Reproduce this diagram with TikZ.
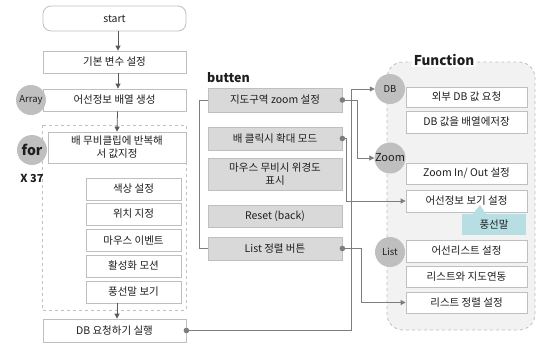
\documentclass[tikz,border=0pt]{standalone}
\usepackage{fontspec}
\setmainfont{Noto Sans CJK KR}
\usetikzlibrary{arrows.meta,calc}
\definecolor{bd}{RGB}{191,191,191}
\definecolor{btnfill}{RGB}{217,217,217}
\definecolor{circfill}{RGB}{191,191,191}
\definecolor{fnbg}{RGB}{242,242,242}
\definecolor{connc}{RGB}{125,125,125}
\definecolor{arrdark}{RGB}{89,89,89}
\definecolor{tealc}{RGB}{183,222,226}
\definecolor{txt}{RGB}{30,30,30}
\begin{document}
\begin{tikzpicture}[x=1pt,y=-1pt,
  txtf/.style={font=\fontsize{10.5}{13}\selectfont, text=txt},
  box/.style={draw=bd, fill=white, inner sep=0pt, align=center, line width=0.8pt, txtf},
  btn/.style={draw=bd, fill=btnfill, inner sep=0pt, align=center, line width=0.8pt, txtf},
  circ/.style={circle, fill=circfill, inner sep=0pt, minimum size=30, text=txt},
  mainarr/.style={draw=arrdark, line width=0.8pt, -{Triangle[length=5pt,width=5pt]}},
  connarr/.style={draw=connc, line width=0.8pt, -{Triangle[length=5pt,width=5pt]}},
  connline/.style={draw=connc, line width=0.8pt},
]
\useasboundingbox (0,0) rectangle (537,343);

% ---------- left column ----------
\node[box, rounded corners=8, minimum width=143, minimum height=25] (start) at (114.5,18.5) {start};
\node[box, minimum width=143, minimum height=22] (b1) at (114.5,62) {기본 변수 설정};
\node[box, minimum width=143, minimum height=22] (b2) at (114.5,100) {어선정보 배열 생성};
\node[circ, font=\fontsize{9.5}{11}\selectfont] (arr) at (31,100) {Array};

\draw[bd, dashed, line width=0.8pt] (42,125) rectangle (186,310);
\node[box, minimum width=138, minimum height=31] (b3) at (117,147.5) {배 무비클립에 반복해\\서 값지정};
\node[circ, font=\bfseries\fontsize{14}{16}\selectfont] (forc) at (32,150) {for};
\node[font=\bfseries\fontsize{11}{13}\selectfont, text=txt] (x37) at (32,178) {X 37};

\node[box, minimum width=95, minimum height=22] (b4) at (133.5,189) {색상 설정};
\node[box, minimum width=95, minimum height=22] (b5) at (133.5,214) {위치 지정};
\node[box, minimum width=95, minimum height=22] (b6) at (133.5,240.5) {마우스 이벤트};
\node[box, minimum width=95, minimum height=22] (b7) at (133.5,266) {활성화 모션};
\node[box, minimum width=95, minimum height=22] (b8) at (133.5,292) {풍선말 보기};
\node[box, minimum width=143, minimum height=23] (b9) at (114.5,330.5) {DB 요청하기 실행};

\draw[mainarr] ([xshift=3.5pt]start.south) -- ([xshift=3.5pt]b1.north);
\draw[mainarr] ([xshift=3.5pt]b1.south) -- ([xshift=3.5pt]b2.north);
\draw[mainarr] ([xshift=3pt]b2.south) -- (b3.north);
\draw[mainarr] ([xshift=2.5pt]b9.north |- b8.south) -- ([xshift=2.5pt]b9.north);

% ---------- buttons ----------
\node[font=\bfseries\fontsize{12.5}{14}\selectfont, text=txt, anchor=west, inner sep=0pt] (butten) at (207,77.5) {butten};
\node[btn, minimum width=134, minimum height=24] (k1) at (275,100) {지도구역 zoom 설정};
\node[btn, minimum width=134, minimum height=23] (k2) at (275,138.5) {배 클릭시 확대 모드};
\node[btn, minimum width=134, minimum height=32] (k3) at (275,174) {마우스 무비시 위경도\\표시};
\node[btn, minimum width=134, minimum height=22] (k4) at (275,216) {Reset (back)};
\node[btn, minimum width=134, minimum height=23] (k5) at (275,248.5) {List 정렬 버튼};

\draw[connline] (k1.west) -- ([xshift=-8pt]k1.west) -- ([xshift=-8pt]k5.west) -- (k5.west);

% ---------- Function ----------
\draw[bd, dashed, line width=0.8pt, fill=fnbg, rounded corners=16] (387,62) rectangle (535,330);
\node[font=\bfseries\fontsize{13.5}{15}\selectfont, text=txt, fill=white, inner sep=1.5pt] (fnlab) at (444,60) {Function};

\node[circ, font=\fontsize{9.5}{11}\selectfont] (dbc) at (390,89) {DB};
\node[circ, font=\fontsize{11}{13}\selectfont] (zoomc) at (390,158) {Zoom};
\node[circ, font=\fontsize{9.5}{11}\selectfont] (listc) at (390,252) {List};

\node[box, minimum width=121, minimum height=20] (f1) at (466.5,97) {외부 DB 값 요청};
\node[box, minimum width=121, minimum height=22] (f2) at (466.5,122) {DB 값을 배열에저장};
\node[box, minimum width=121, minimum height=21] (f3) at (466.5,173.5) {Zoom In/ Out 설정};
\node[box, minimum width=121, minimum height=22] (f4) at (466.5,201) {어선정보 보기 설정};
\node[fill=tealc, inner sep=0pt, minimum width=64, minimum height=21, txtf] (callout) at (494,224.5) {풍선말};
\fill[tealc] ([xshift=11pt]callout.north west) -- (480,205) -- ([xshift=24pt]callout.north west) -- cycle;
\node[box, minimum width=121, minimum height=22] (f5) at (466.5,251) {어선리스트 설정};
\node[box, minimum width=121, minimum height=21] (f6) at (466.5,276.5) {리스트와 지도연동};
\node[box, minimum width=121, minimum height=21] (f7) at (466.5,302.5) {리스트 정렬 설정};

% ---------- connectors ----------
\draw[connarr] (b9.east) -| ([xshift=-23pt]dbc.west) -- (dbc.west);
\draw[connarr] (k1.east) -| ([xshift=-17pt]zoomc.west) -- (zoomc.west);
\draw[connarr] (k2.east) -| ([xshift=-59pt]f4.west) -- (f4.west);
\draw[connarr] (k5.east) -| ([xshift=-44pt]f7.west) -- (f7.west);
\fill[connc] (b9.east) circle (2.8);
\fill[connc] (k1.east) circle (2.8);
\fill[connc] (k2.east) circle (2.8);
\fill[connc] (k5.east) circle (2.8);
\end{tikzpicture}
\end{document}
